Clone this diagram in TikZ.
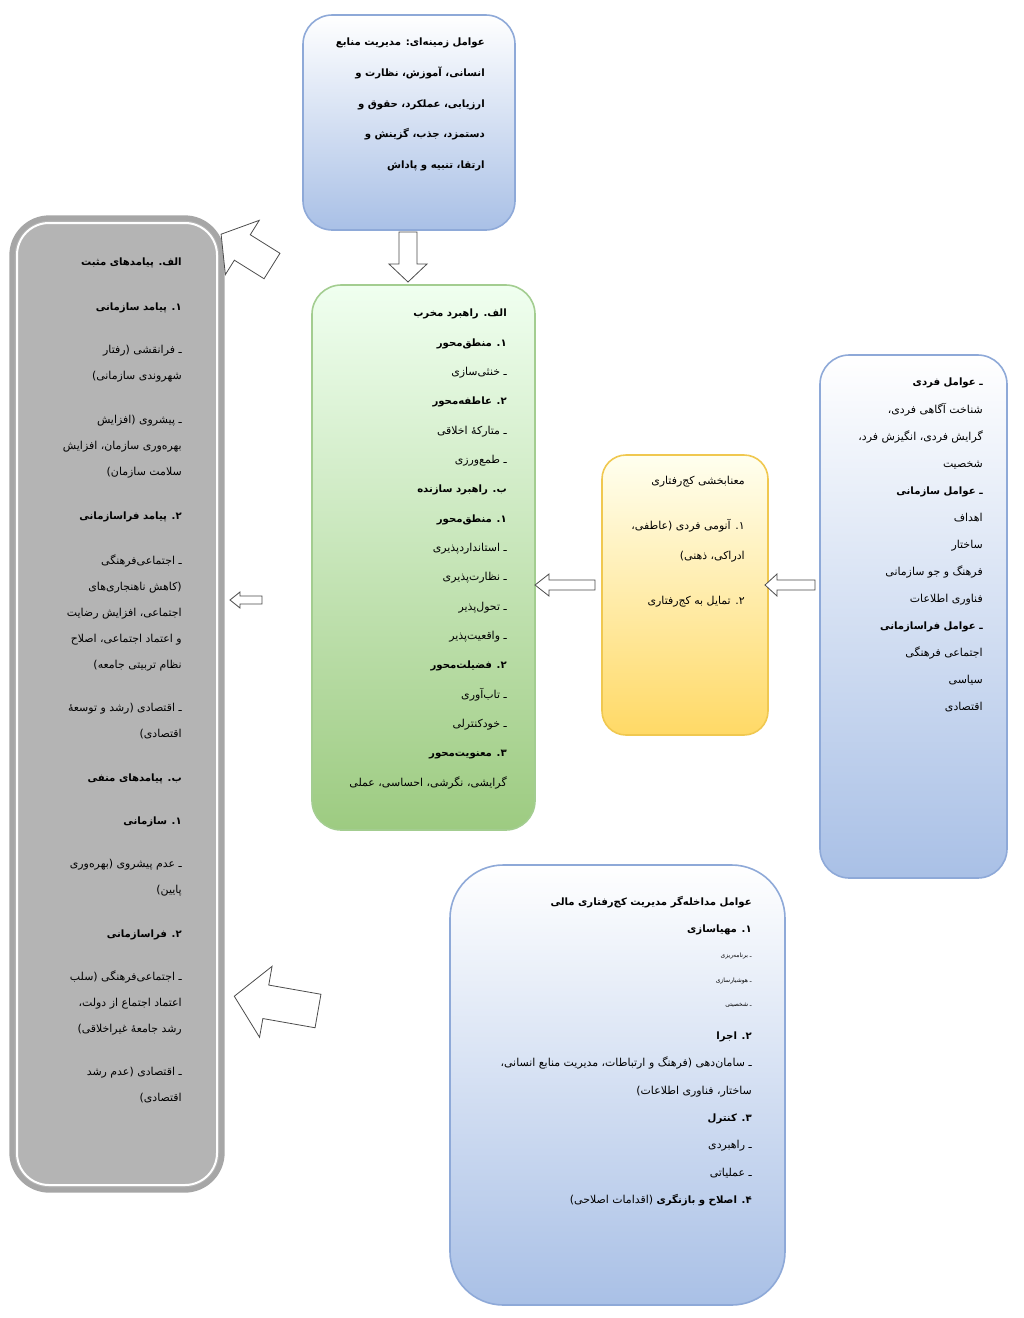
\documentclass[tikz,border=0pt]{standalone}
\usepackage{fontspec}
\newfontfamily\fa[Script=Arabic]{DejaVu Sans}
\TeXXeTstate=1
\newcommand{\RL}[1]{\beginR #1\endR}
\newcommand{\BB}[1]{{\bfseries\fontsize{7.6}{20}\selectfont\beginR #1\endR}}
\definecolor{bluebot}{HTML}{A9C0E6}
\definecolor{blueline}{HTML}{8EA9D8}
\definecolor{greenbot}{HTML}{9DCB81}
\definecolor{greenline}{HTML}{A3CD90}
\definecolor{yelbot}{HTML}{FFD966}
\definecolor{yelline}{HTML}{F0C850}
\definecolor{greyfill}{HTML}{B4B4B4}
\begin{document}
\begin{tikzpicture}[x=0.75pt,y=-0.75pt,
  bluebox/.style={draw=blueline,line width=1.2pt,rounded corners=22pt,top color=white,bottom color=bluebot},
  txt/.style={anchor=north east,align=right,inner sep=0pt,font=\fa\fontsize{8.2}{20}\selectfont},
  pics/barrow/.style args={#1/#2/#3/#4}{code={\draw[black!70,fill=white,line width=0.6pt] (0,-#2)--(#1-#4,-#2)--(#1-#4,-#3)--(#1,0)--(#1-#4,#3)--(#1-#4,#2)--(0,#2)--cycle;}}]
\useasboundingbox (0,0) rectangle (1024,1318);
\fill[white] (0,0) rectangle (1024,1318);
% boxes
\draw[bluebox] (303,15) rectangle (515,230);
\draw[line width=4pt,draw=black!35,rounded corners=28pt,fill=greyfill] (12,218) rectangle (222,1190);
\draw[line width=1.5pt,draw=white,rounded corners=24pt] (17,223) rectangle (217,1185);
\draw[draw=greenline,line width=1.2pt,rounded corners=22pt,top color=green!6,bottom color=greenbot] (312,285) rectangle (535,830);
\draw[draw=yelline,line width=1.2pt,rounded corners=18pt,top color=yellow!6,bottom color=yelbot] (602,455) rectangle (768,735);
\draw[bluebox] (820,355) rectangle (1007,878);
\draw[bluebox,rounded corners=40pt] (450,865) rectangle (785,1305);
% texts
\node[txt,font=\fa\bfseries\fontsize{7.6}{23}\selectfont] (ttop) at (485,38) {\RL{عوامل زمینه‌ای: مدیریت منابع}\\ \RL{انسانی، آموزش، نظارت و}\\ \RL{ارزیابی، عملکرد، حقوق و}\\ \RL{دستمزد، جذب، گزینش و}\\ \RL{ارتقا، تنبیه و پاداش}};
\node[txt,font=\fa\fontsize{8.2}{19.5}\selectfont] (tleft) at (182,258) {\BB{الف. پیامدهای مثبت}\\[14pt]
\BB{۱. پیامد سازمانی}\\[13pt]
\RL{ـ فرانقشی (رفتار}\\ \RL{شهروندی سازمانی)}\\[13pt]
\RL{ـ پیشروی (افزایش}\\ \RL{بهره‌وری سازمان، افزایش}\\ \RL{سلامت سازمان)}\\[14pt]
\BB{۲. پیامد فراسازمانی}\\[14pt]
\RL{ـ اجتماعی‌فرهنگی}\\ \RL{(کاهش ناهنجاری‌های}\\ \RL{اجتماعی، افزایش رضایت}\\ \RL{و اعتماد اجتماعی، اصلاح}\\ \RL{نظام تربیتی جامعه)}\\[13pt]
\RL{ـ اقتصادی (رشد و توسعهٔ}\\ \RL{اقتصادی)}\\[13pt]
\BB{ب. پیامدهای منفی}\\[13pt]
\BB{۱. سازمانی}\\[13pt]
\RL{ـ عدم پیشروی (بهره‌وری}\\ \RL{پایین)}\\[13pt]
\BB{۲. فراسازمانی}\\[13pt]
\RL{ـ اجتماعی‌فرهنگی (سلب}\\ \RL{اعتماد اجتماع از دولت،}\\ \RL{رشد جامعهٔ غیراخلاقی)}\\[13pt]
\RL{ـ اقتصادی (عدم رشد}\\ \RL{اقتصادی)}};
\node[txt,font=\fa\fontsize{8.2}{22}\selectfont] (tgreen) at (507,309) {\BB{الف. راهبرد مخرب}\\ \BB{۱. منطق‌محور}\\ \RL{ـ خنثی‌سازی}\\ \BB{۲. عاطفه‌محور}\\ \RL{ـ متارکهٔ اخلاقی}\\ \RL{ـ طمع‌ورزی}\\ \BB{ب. راهبرد سازنده}\\ \BB{۱. منطق‌محور}\\ \RL{ـ استانداردپذیری}\\ \RL{ـ نظارت‌پذیری}\\ \RL{ـ تحول‌پذیر}\\ \RL{ـ واقعیت‌پذیر}\\ \BB{۲. فضیلت‌محور}\\ \RL{ـ تاب‌آوری}\\ \RL{ـ خودکنترلی}\\ \BB{۳. معنویت‌محور}\\ \RL{گرایشی، نگرشی، احساسی، عملی}};
\node[txt,font=\fa\fontsize{8.2}{22}\selectfont] (tyel) at (745,476) {\RL{معنابخشی کج‌رفتاری}\\[12pt] \RL{۱. آنومی فردی (عاطفی،}\\ \RL{ادراکی، ذهنی)}\\[12pt] \RL{۲. تمایل به کج‌رفتاری}};
\node[txt,font=\fa\fontsize{8.2}{20.3}\selectfont] (tright) at (983,378) {\BB{ـ عوامل فردی}\\ \RL{شناخت آگاهی فردی،}\\ \RL{گرایش فردی، انگیزش فرد،}\\ \RL{شخصیت}\\ \BB{ـ عوامل سازمانی}\\ \RL{اهداف}\\ \RL{ساختار}\\ \RL{فرهنگ و جو سازمانی}\\ \RL{فناوری اطلاعات}\\ \BB{ـ عوامل فراسازمانی}\\ \RL{اجتماعی فرهنگی}\\ \RL{سیاسی}\\ \RL{اقتصادی}};
\node[txt,font=\fa\fontsize{8.2}{20.5}\selectfont] (tbot) at (752,896) {\BB{عوامل مداخله‌گر مدیریت کج‌رفتاری مالی}\\ \BB{۱. مهیاسازی}\\[-2pt]
{\fontsize{4.5}{17}\selectfont\RL{ـ برنامه‌ریزی}}\\[-2pt] {\fontsize{4.5}{18}\selectfont\RL{ـ هوشیارسازی}}\\[-2pt] {\fontsize{4.5}{18}\selectfont\RL{ـ شخصیتی}}\\[4pt]
\BB{۲. اجرا}\\ \RL{ـ سامان‌دهی (فرهنگ و ارتباطات، مدیریت منابع انسانی،}\\ \RL{ساختار، فناوری اطلاعات)}\\ \BB{۳. کنترل}\\ \RL{ـ راهبردی}\\ \RL{ـ عملیاتی}\\ \RL{{\bfseries\fontsize{7.6}{20}\selectfont ۴. اصلاح و بازنگری} (اقدامات اصلاحی)}};
% arrows
\pic[rotate=-90] at (408,232) {barrow={50/9/19/18}};
\pic[rotate=180] at (815,585) {barrow={50/5/11/12}};
\pic[rotate=180] at (595,585) {barrow={60/5/11/14}};
\pic[rotate=180] at (262,600) {barrow={32/4/8/10}};
\pic[rotate=148] at (272,266) {barrow={60/15/32/25}};
\pic[rotate=170] at (318,1011) {barrow={85/17/36/32}};
\end{tikzpicture}
\end{document}
